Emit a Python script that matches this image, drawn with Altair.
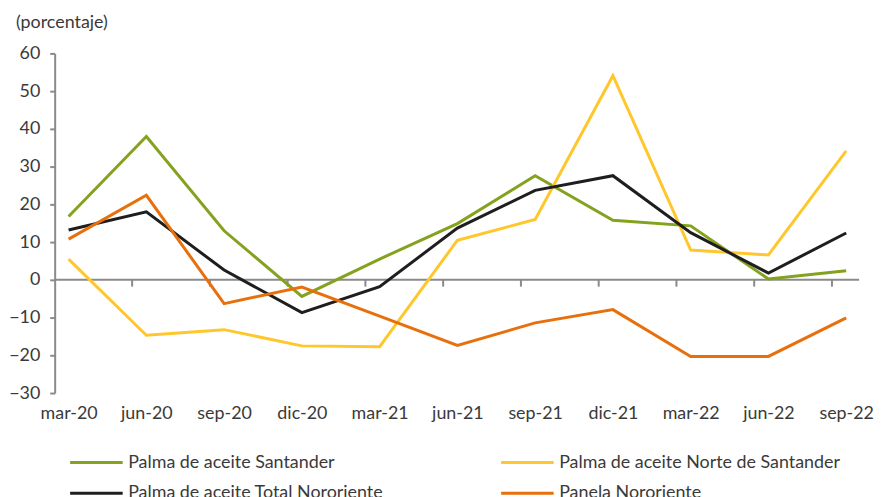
import altair as alt
import pandas as pd

months = ["mar-20", "jun-20", "sep-20", "dic-20", "mar-21", "jun-21",
          "sep-21", "dic-21", "mar-22", "jun-22", "sep-22"]
series_names = ["Palma de aceite Santander", "Palma de aceite Norte de Santander",
                "Palma de aceite Total Nororiente", "Panela Nororiente"]
santander = [16.8, 38.0, 13.0, -4.4, 5.5, 14.9, 27.6, 15.8, 14.3, 0.2, 2.4]
norte = [5.5, -14.7, -13.2, -17.5, -17.7, 10.5, 16.0, 54.1, 7.9, 6.6, 34.2]
total = [13.2, 18.0, 2.6, -8.7, -1.8, 13.7, 23.7, 27.6, 12.5, 1.8, 12.4]
panela = [10.8, 22.4, -6.3, -1.9, -9.6, -17.4, -11.4, -7.9, -20.3, -20.3, -10.1]
colors = ["#84A21E", "#FFC72C", "#1E1E1E", "#E8700C"]
tick_positions = [i + 0.817 for i in range(10)]

rows = []
for name, vals in zip(series_names, [santander, norte, total, panela]):
    for i, (m, v) in enumerate(zip(months, vals)):
        rows.append({"idx": i, "mes": m, "serie": name, "valor": v})
df = pd.DataFrame(rows)

# legend is laid out column-major: first column Santander / Total, second Norte / Panela
legend_order = [series_names[0], series_names[2], series_names[1], series_names[3]]
legend_colors = [colors[0], colors[2], colors[1], colors[3]]

FONT = "Lato"
TXT = "#3a3a3a"
AX = "#8a8a8a"
FS = 18

label_expr = "[" + ",".join(f"'{m}'" for m in months) + "][datum.value]"

xscale = alt.Scale(domain=[-0.179, 10.166], nice=False, zero=False)
yscale = alt.Scale(domain=[-30, 60], nice=False)

x_axis = alt.Axis(values=list(range(11)), tickCount=30, labelExpr=label_expr, title=None,
                  domain=False, ticks=False, grid=False, labelFont=FONT,
                  labelFontSize=FS, labelColor=TXT, labelPadding=12,
                  labelOverlap=False, labelBound=False, labelFlush=False)
y_axis = alt.Axis(values=list(range(-30, 61, 10)), tickCount=30, title=None, grid=False,
                  domain=True, domainColor=AX, domainWidth=2,
                  ticks=True, tickColor=AX, tickSize=5, tickWidth=2,
                  labelFont=FONT, labelFontSize=FS, labelColor=TXT,
                  labelPadding=10, labelOverlap=False, labelBound=False,
                  labelFlush=False)

lines = alt.Chart(df).mark_line(strokeWidth=3).encode(
    x=alt.X("idx:Q", scale=xscale, axis=x_axis),
    y=alt.Y("valor:Q", scale=yscale, axis=y_axis),
    color=alt.Color("serie:N", scale=alt.Scale(domain=legend_order, range=legend_colors),
                    legend=alt.Legend(title=None, orient="none", legendX=14, legendY=402,
                                      columns=2, columnPadding=117, rowPadding=11,
                                      clipHeight=20,
                                      symbolType="stroke", symbolSize=2800,
                                      symbolStrokeWidth=3, labelFont=FONT,
                                      labelFontSize=FS, labelColor=TXT, labelOffset=4,
                                      labelLimit=500, padding=0)),
    order=alt.Order("idx:Q"),
)

zero_line = alt.Chart(pd.DataFrame({"v": [0]})).mark_rule(color=AX, strokeWidth=2).encode(
    y=alt.Y("v:Q", scale=yscale, axis=y_axis), x=alt.value(0), x2=alt.value(810))

ticks = alt.Chart(pd.DataFrame({"t": tick_positions})).mark_rule(color=AX, strokeWidth=2).encode(
    x=alt.X("t:Q", scale=xscale, axis=x_axis), y=alt.datum(0), y2=alt.datum(-1.8))

chart = alt.layer(zero_line, ticks, lines).properties(
    width=810, height=342,
    autosize=alt.AutoSizeParams(type="none"),
    padding={"left": 47, "top": 44, "right": 15, "bottom": 110},
    title=alt.TitleParams("(porcentaje)", anchor="start", frame="group", dx=-39, offset=13,
                          font=FONT, fontSize=FS, fontWeight="normal", color=TXT),
).configure_view(stroke=None).configure_axis(labelOverlap=False)

chart.save("out.html", embed_options={"renderer": "svg", "actions": False})
